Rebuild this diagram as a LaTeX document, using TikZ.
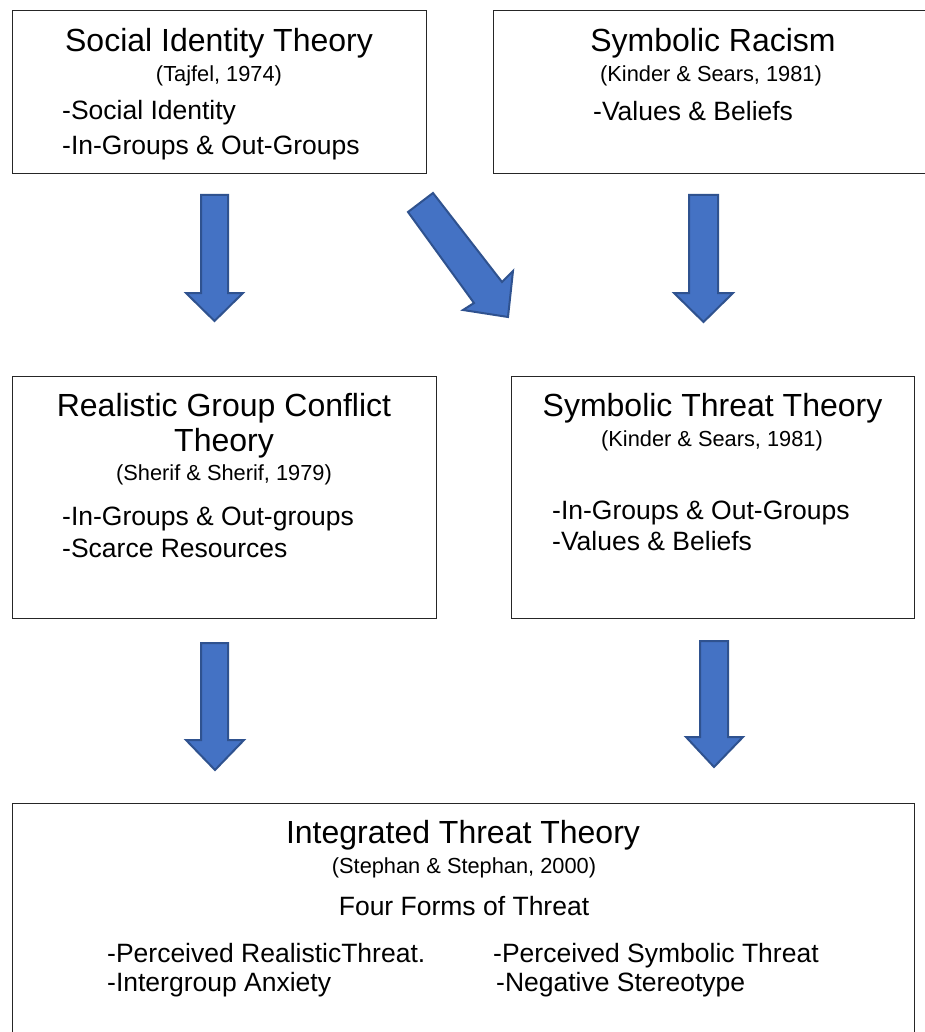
\documentclass[tikz,border=0pt]{standalone}
\usepackage{fontspec}
\setmainfont{Liberation Sans}
\definecolor{arrowfill}{HTML}{4472C4}
\definecolor{arrowline}{HTML}{2F528F}
\begin{document}
\begin{tikzpicture}[x=1pt,y=-1pt,
  box/.style={draw=black!85, line width=1.3pt, inner sep=0pt, anchor=north west},
  blk/.style={fill=arrowfill, draw=arrowline, line width=2pt, line join=miter},
  ttl/.style={inner sep=0pt, anchor=base, font=\fontsize{32}{38}\selectfont},
  sub/.style={inner sep=0pt, anchor=base, font=\fontsize{21.8}{26}\selectfont},
  itm/.style={inner sep=0pt, anchor=base west, font=\fontsize{26.5}{32}\selectfont},
  ctr/.style={inner sep=0pt, anchor=base, font=\fontsize{26.5}{32}\selectfont}]
\useasboundingbox (0,0) rectangle (925,1032);
\fill[white] (0,0) rectangle (925,1032);

% boxes
\node[box, minimum width=414pt, minimum height=163pt] (sit) at (12,10) {};
\node[box, minimum width=436pt, minimum height=163pt] (sr) at (493,10) {};
\node[box, minimum width=424pt, minimum height=242pt] (rgc) at (12,376) {};
\node[box, minimum width=403pt, minimum height=242pt] (stt) at (511,376) {};
\node[box, minimum width=902pt, minimum height=240pt] (itt) at (12,803) {};

% box 1
\node[ttl] (t1) at (219,52) {Social Identity Theory};
\node[sub] (s1) at (219,82) {(Tajfel, 1974)};
\node[itm] (b1a) at (62,120) {-Social Identity};
\node[itm] (b1b) at (62,155) {-In-Groups \& Out-Groups};

% box 2
\node[ttl] (t2) at (713,52) {Symbolic Racism};
\node[sub] (s2) at (711,82) {(Kinder \& Sears, 1981)};
\node[itm] (b2a) at (593,121) {-Values \& Beliefs};

% box 3
\node[ttl] (t3a) at (224,416) {Realistic Group Conflict};
\node[ttl] (t3b) at (224,451) {Theory};
\node[sub] (s3) at (224,480) {(Sherif \& Sherif, 1979)};
\node[itm] (b3a) at (62,525) {-In-Groups \& Out-groups};
\node[itm] (b3b) at (62,557) {-Scarce Resources};

% box 4
\node[ttl] (t4) at (712.5,416) {Symbolic Threat Theory};
\node[sub] (s4) at (712,446) {(Kinder \& Sears, 1981)};
\node[itm] (b4a) at (552,519) {-In-Groups \& Out-Groups};
\node[itm] (b4b) at (552,550) {-Values \& Beliefs};

% box 5
\node[ttl] (t5) at (463,843) {Integrated Threat Theory};
\node[sub] (s5) at (464,873) {(Stephan \& Stephan, 2000)};
\node[ctr] (f5) at (464,915) {Four Forms of Threat};
\node[itm] (b5a) at (107,962) {-Perceived RealisticThreat.};
\node[itm] (b5b) at (107,991) {-Intergroup Anxiety};
\node[itm] (b5c) at (493,962) {-Perceived Symbolic Threat};
\node[itm] (b5d) at (496,991) {-Negative Stereotype};

% block arrows
\draw[blk] (201,195) -- (228,195) -- (228,293) -- (243,293) -- (214.5,321) -- (186,293) -- (201,293) -- cycle;
\draw[blk] (689,195) -- (718,195) -- (718,293) -- (733,293) -- (703.5,322) -- (674,293) -- (689,293) -- cycle;
\draw[blk] (408,212) -- (433,193) -- (502,282) -- (513,271) -- (508,317) -- (463,310) -- (474,303) -- cycle;
\draw[blk] (201,643) -- (228,643) -- (228,740) -- (244,740) -- (215,770) -- (186,740) -- (201,740) -- cycle;
\draw[blk] (700,641) -- (728,641) -- (728,737) -- (743,737) -- (714,767) -- (686,737) -- (700,737) -- cycle;
\end{tikzpicture}
\end{document}
